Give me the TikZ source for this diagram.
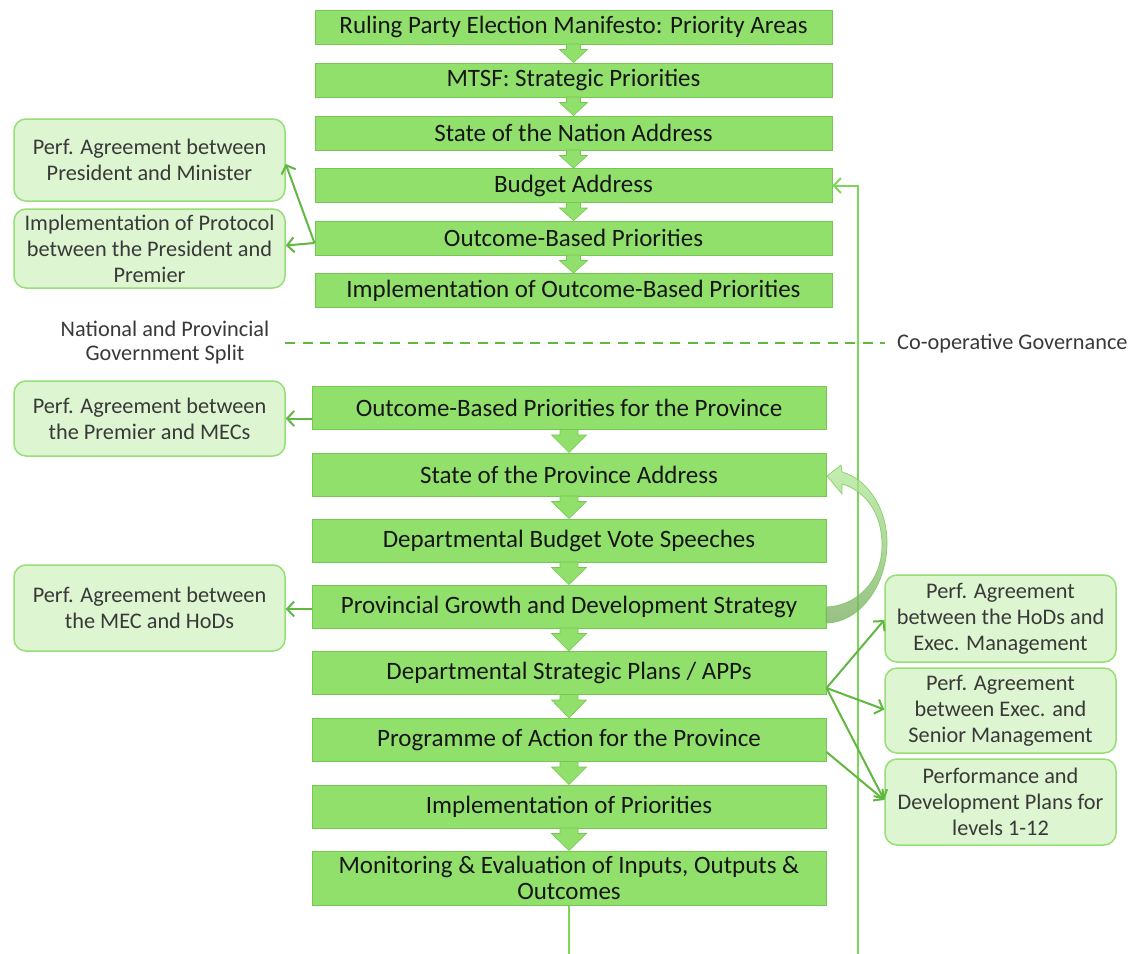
\documentclass[tikz,border=0pt]{standalone}
\usepackage{fontspec}
\setmainfont{Carlito}
\usetikzlibrary{arrows.meta}
\definecolor{boxfill}{RGB}{146,224,108}
\definecolor{boxline}{RGB}{116,200,82}
\definecolor{softfill}{RGB}{221,245,208}
\definecolor{softline}{RGB}{150,222,118}
\definecolor{conn}{RGB}{96,184,64}
\definecolor{feed}{RGB}{124,214,88}
\definecolor{txt}{RGB}{22,22,22}
\definecolor{curvetop}{RGB}{178,234,152}
\definecolor{curvebot}{RGB}{118,172,92}
\newcommand\flowarrow[4]{%
  \fill[boxfill, draw=boxline, line width=0.6pt] let \p1=(#1.south), \p2=(#2.north) in
   (\x1-#4pt,\y1+0.5pt) -- (\x1+#4pt,\y1+0.5pt) -- (\x1+#4pt,\y1-5pt) -- (\x1+#3pt,\y1-5pt)
   -- (\x1,\y2) -- (\x1-#3pt,\y1-5pt) -- (\x1-#4pt,\y1-5pt) -- cycle;}
\usetikzlibrary{calc}
\tikzset{
  mainbox/.style={draw=boxline, fill=boxfill, line width=1pt, inner sep=0pt,
    align=center, text=txt, font=\fontsize{25}{26}\selectfont},
  natbox/.style={mainbox, minimum width=517pt, minimum height=34pt},
  provbox/.style={mainbox, minimum width=514pt, minimum height=43pt},
  softbox/.style={draw=softline, fill=softfill, line width=1.5pt, rounded corners=12pt,
    inner sep=0pt, align=center, text=txt!85, font=\fontsize{22.3}{26}\selectfont},
  leftbox/.style={softbox, minimum width=271pt},
  rightbox/.style={softbox, minimum width=231pt},
  connarrow/.style={draw=conn, line width=2pt, -{Straight Barb[length=7pt,width=15pt]}},
  plainlabel/.style={align=center, text=txt!85, font=\fontsize{22.3}{24}\selectfont, inner sep=0pt},
}
\begin{document}
\begin{tikzpicture}[x=1pt,y=-1pt]
\fill[white] (0,0) rectangle (1135,953);
\useasboundingbox (0,0) rectangle (1135,953);

% national boxes
\node[natbox] (n1) at (573.5,27) {Ruling Party Election Manifesto: Priority Areas};
\node[natbox] (n2) at (573.5,80) {MTSF: Strategic Priorities};
\node[natbox] (n3) at (573.5,133) {State of the Nation Address};
\node[natbox] (n4) at (573.5,185.5) {Budget Address};
\node[natbox] (n5) at (573.5,238) {Outcome-Based Priorities};
\node[natbox] (n6) at (573.5,290.5) {Implementation of Outcome-Based Priorities};

% provincial boxes
\node[provbox] (p1) at (569,408) {Outcome-Based Priorities for the Province};
\node[provbox] (p2) at (569,474.5) {State of the Province Address};
\node[provbox] (p3) at (569,540.5) {Departmental Budget Vote Speeches};
\node[provbox] (p4) at (569,606.5) {Provincial Growth and Development Strategy};
\node[provbox] (p5) at (569,673) {Departmental Strategic Plans / APPs};
\node[provbox] (p6) at (569,740) {Programme of Action for the Province};
\node[provbox] (p7) at (569,806.5) {Implementation of Priorities};
\node[provbox, minimum height=54pt] (p8) at (569,878) {Monitoring \& Evaluation of Inputs, Outputs \&\\Outcomes};

% flow arrows
\flowarrow{n1}{n2}{14}{7}
\flowarrow{n2}{n3}{14}{7}
\flowarrow{n3}{n4}{14}{7}
\flowarrow{n4}{n5}{14}{7}
\flowarrow{n5}{n6}{14}{7}
\flowarrow{p1}{p2}{17.5}{9}
\flowarrow{p2}{p3}{17.5}{9}
\flowarrow{p3}{p4}{17.5}{9}
\flowarrow{p4}{p5}{17.5}{9}
\flowarrow{p5}{p6}{17.5}{9}
\flowarrow{p6}{p7}{17.5}{9}
\flowarrow{p7}{p8}{17.5}{9}

% left boxes
\node[leftbox, minimum height=82pt] (l1) at (149.5,160) {Perf. Agreement between\\President and Minister};
\node[leftbox, minimum height=79pt] (l2) at (149.5,248.5) {Implementation of Protocol\\between the President and\\Premier};
\node[leftbox, minimum height=75pt] (l3) at (149.5,418.5) {Perf. Agreement between\\the Premier and MECs};
\node[leftbox, minimum height=86pt] (l4) at (149.5,608) {Perf. Agreement between\\the MEC and HoDs};

% right boxes
\node[rightbox, minimum height=87pt] (r1) at (1000.5,618.5) {Perf. Agreement\\between the HoDs and\\Exec. Management};
\node[rightbox, minimum height=85pt] (r2) at (1000.5,710.5) {Perf. Agreement\\between Exec. and\\Senior Management};
\node[rightbox, minimum height=86pt] (r3) at (1000.5,802) {Performance and\\Development Plans for\\levels 1-12};

% labels and split line
\node[plainlabel] (split) at (165,343) {National and Provincial\\Government Split};
\node[plainlabel, anchor=west] (coop) at (897,344) {Co-operative Governance};
\coordinate (d1) at (285,343);
\coordinate (d2) at (885,343);
\draw[conn, line width=2.5pt, dash pattern=on 10pt off 7.5pt] (d1) -- (d2);

% feedback line (its bottom run lies just below the picture's edge)
\coordinate (fb) at (858,957);
\draw[feed, line width=2pt, -{Straight Barb[length=7pt,width=15pt]}]
  (p8.south) |- (fb) -- (fb |- n4.east) -- (n4.east);

% curved arrow
\shade[top color=curvetop, middle color=curvetop!85!curvebot, bottom color=curvebot,
  fill opacity=0.75, draw=boxline, draw opacity=0.8, line width=0.7pt]
  (842,472) .. controls (868,479) and (888,510) .. (887,545)
  .. controls (886,588) and (858,623) .. (826,623)
  -- (826,607) .. controls (856,606) and (882,582) .. (882,545)
  .. controls (882,514) and (866,491) .. (842,484)
  -- (842,494) -- (827,476) -- (841,465) -- cycle;

% connectors to side boxes
\draw[connarrow] ([yshift=-5pt]n5.west) -- ([yshift=-4pt]l1.east);
\draw[connarrow] ([yshift=-5pt]n5.west) -- ([yshift=3pt]l2.east);
\draw[connarrow] (l3.east -| p1.west) -- (l3.east);
\draw[connarrow] ([yshift=-1pt]l4.east -| p4.west) -- ([yshift=-1pt]l4.east);
\draw[connarrow] ([yshift=-15pt]p5.east) -- ([yshift=-1.5pt]r1.west);
\draw[connarrow] ([yshift=-15pt]p5.east) -- ([yshift=1pt]r2.west);
\draw[connarrow] ([yshift=-15pt]p5.east) -- ([yshift=2pt]r3.west);
\draw[connarrow] ([yshift=-12pt]p6.east) -- ([yshift=2pt]r3.west);
\end{tikzpicture}
\end{document}
